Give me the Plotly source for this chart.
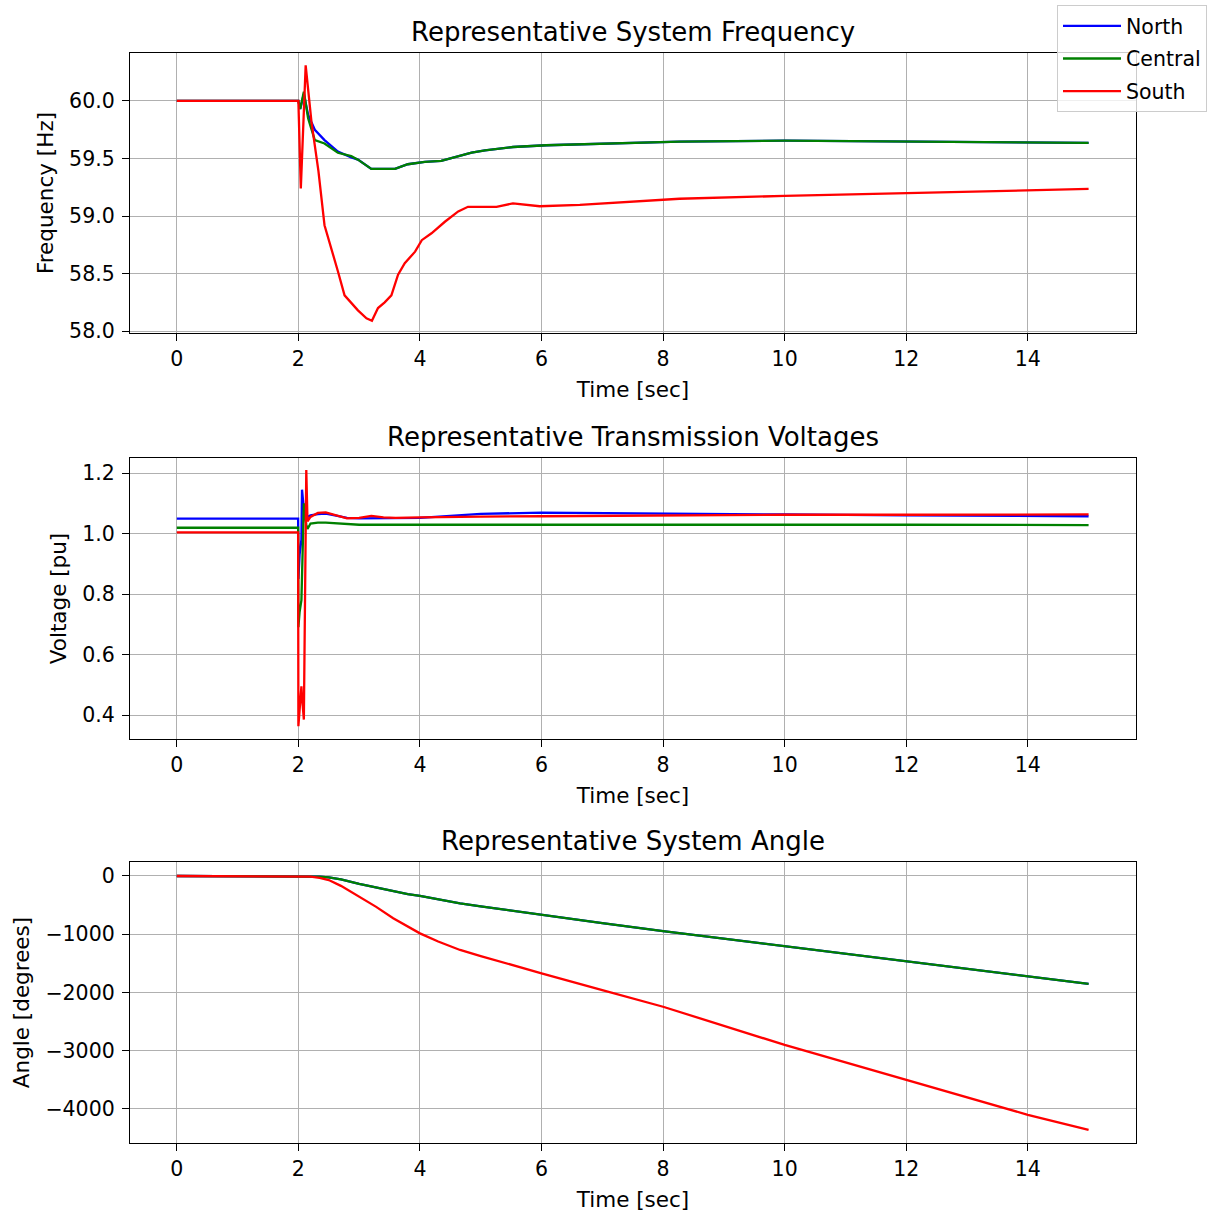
import plotly.graph_objects as go

# ---------------- data ----------------
series_names = ["North", "Central", "South"]
series_colors = ["#0000ff", "#008000", "#ff0000"]

# Frequency [Hz]
t_freq_nc = [0, 1.0, 2.0, 2.03, 2.09, 2.16, 2.27, 2.43, 2.65, 2.87, 2.98, 3.2, 3.42, 3.59,
             3.8, 4.08, 4.35, 4.63, 4.85, 5.07, 5.53, 6.08, 7.18, 8.27, 10.0, 12.0, 14.0,
             15.0]
freq_north = [60.0, 60.0, 60.0, 59.93, 60.06, 59.88, 59.75, 59.66, 59.56, 59.51, 59.49,
              59.41, 59.41, 59.41, 59.45, 59.47, 59.48, 59.52, 59.55, 59.57, 59.6, 59.615,
              59.63, 59.646, 59.655, 59.645, 59.64, 59.635]
freq_central = [60.0, 60.0, 60.0, 59.93, 60.08, 59.85, 59.66, 59.63, 59.55, 59.52, 59.49,
                59.41, 59.41, 59.41, 59.45, 59.47, 59.48, 59.52, 59.55, 59.57, 59.6, 59.615,
                59.63, 59.646, 59.655, 59.645, 59.64, 59.635]
t_freq_s = [0, 1.0, 2.0, 2.04, 2.12, 2.215, 2.33, 2.43, 2.545, 2.65, 2.76, 2.87, 2.98, 3.12,
            3.21, 3.31, 3.42, 3.53, 3.64, 3.75, 3.92, 4.03, 4.19, 4.41, 4.63, 4.79, 5.07,
            5.26, 5.53, 5.97, 6.63, 7.45, 8.27, 10.0, 12.0, 14.0, 15.0]
freq_south = [60.0, 60.0, 60.0, 59.24, 60.31, 59.82, 59.39, 58.92, 58.72, 58.52, 58.31,
              58.24, 58.18, 58.11, 58.09, 58.2, 58.25, 58.31, 58.49, 58.59, 58.69, 58.79,
              58.85, 58.95, 59.04, 59.08, 59.08, 59.08, 59.11, 59.085, 59.096, 59.12, 59.15,
              59.175, 59.2, 59.225, 59.235]

# Voltage [pu]
t_volt = [0, 1.996, 2.0, 2.02, 2.05, 2.06, 2.09, 2.13, 2.15, 2.2, 2.32, 2.45, 2.6, 2.8,
          3.0, 3.2, 3.4, 3.6, 4.0, 4.5, 5.0, 6.0, 8.0, 10.0, 12.0, 15.0]
volt_north = [1.049, 1.049, 0.85, 0.93, 0.98, 1.145, 1.08, 1.053, 1.055, 1.06, 1.064, 1.066,
              1.06, 1.052, 1.05, 1.05, 1.05, 1.05, 1.052, 1.058, 1.065, 1.069, 1.067, 1.063,
              1.06, 1.057]
volt_central = [1.019, 1.019, 0.69, 0.74, 0.78, 0.85, 1.1, 1.03, 1.015, 1.033, 1.036, 1.036,
                1.034, 1.03, 1.029, 1.029, 1.029, 1.029, 1.029, 1.03, 1.031, 1.031, 1.031,
                1.03, 1.029, 1.028]
volt_south = [1.004, 1.004, 0.363, 0.43, 0.495, 0.46, 0.385, 1.21, 1.04, 1.055, 1.068, 1.07,
              1.062, 1.05, 1.052, 1.058, 1.053, 1.052, 1.053, 1.055, 1.056, 1.057, 1.06,
              1.062, 1.062, 1.063]

# Angle [degrees]
t_angle = [0, 2.0, 2.2, 2.35, 2.5, 2.7, 3.0, 3.28, 3.56, 3.8, 4.0, 4.3, 4.66, 5.0, 5.5, 6.0,
           7.0, 8.0, 10.0, 12.0, 14.0, 15.0]
angle_north = [0, 0, -3, -10, -23, -60, -135, -200, -265, -310, -343, -400, -470, -520,
               -595, -670, -810, -945, -1202, -1459, -1717, -1854]
angle_central = [0, 0, -3, -10, -23, -60, -135, -200, -265, -310, -343, -400, -470, -520,
                 -595, -670, -810, -945, -1202, -1459, -1717, -1854]
angle_south = [0, 0, -12, -34, -70, -170, -355, -530, -725, -870, -985, -1125, -1270, -1375,
               -1525, -1671, -1960, -2245, -2900, -3500, -4100, -4360]

x_ticks = [0, 2, 4, 6, 8, 10, 12, 14]
freq_ticks = [58.0, 58.5, 59.0, 59.5, 60.0]
volt_ticks = [0.4, 0.6, 0.8, 1.0, 1.2]
angle_ticks = [-4000, -3000, -2000, -1000, 0]

titles = ["Representative System Frequency", "Representative Transmission Voltages",
          "Representative System Angle"]
y_titles = ["Frequency [Hz]", "Voltage [pu]", "Angle [degrees]"]
x_title = "Time [sec]"

# ---------------- figure ----------------
W, H = 1214, 1212
FONT = "DejaVu Sans"
TICK_SIZE = 20.5
LABEL_SIZE = 21.5
TITLE_SIZE = 26

fig = go.Figure()

panels = [
    ([t_freq_nc, t_freq_nc, t_freq_s], [freq_north, freq_central, freq_south], "x", "y"),
    ([t_volt] * 3, [volt_north, volt_central, volt_south], "x2", "y2"),
    ([t_angle] * 3, [angle_north, angle_central, angle_south], "x3", "y3"),
]
for p, (tts, vals, xa, ya) in enumerate(panels):
    for name, color, tt, v in zip(series_names, series_colors, tts, vals):
        fig.add_trace(go.Scatter(
            x=tt, y=v, mode="lines", name=name, legendgroup=name,
            line=dict(color=color, width=2.3),
            showlegend=(p == 0), xaxis=xa, yaxis=ya))

x_dom = [130 / W, 1136 / W]
y_doms = [[1 - 333 / H, 1 - 53 / H], [1 - 739 / H, 1 - 458 / H], [1 - 1143 / H, 1 - 862 / H]]
y_ranges = [[57.983, 60.417], [0.3207, 1.2496], [-4584, 240]]
y_tickvals = [freq_ticks, volt_ticks, angle_ticks]
y_fmts = [".1f", ".1f", "d"]

axis_common = dict(
    showline=True, linecolor="black", linewidth=1.3, mirror=True,
    ticks="outside", ticklen=7, tickwidth=1.3, tickcolor="black",
    showgrid=True, gridcolor="#b0b0b0", gridwidth=1.4, zeroline=False,
    automargin=False,
    tickfont=dict(family=FONT, size=TICK_SIZE, color="black"),
)

layout = dict(
    width=W, height=H, margin=dict(l=0, r=0, t=0, b=0, autoexpand=False),
    paper_bgcolor="white", plot_bgcolor="white",
    font=dict(family=FONT, size=TICK_SIZE, color="black"),
    legend=dict(x=1057 / W, y=1 - 5 / H, xanchor="left", yanchor="top",
                bgcolor="rgba(255,255,255,0.8)", bordercolor="#cccccc", borderwidth=1,
                font=dict(family=FONT, size=TICK_SIZE, color="black"),
                tracegroupgap=3, itemwidth=58),
    annotations=[],
)

for i in range(3):
    sx = "" if i == 0 else str(i + 1)
    layout["xaxis" + sx] = dict(
        axis_common, domain=x_dom, range=[-0.77, 15.78], tickvals=x_ticks,
        anchor="y" + sx,
        title=dict(text=x_title, font=dict(family=FONT, size=LABEL_SIZE), standoff=12))
    layout["yaxis" + sx] = dict(
        axis_common, domain=y_doms[i], range=y_ranges[i], tickvals=y_tickvals[i],
        tickformat=y_fmts[i], anchor="x" + sx, ticklabelstandoff=3,
        title=dict(text=y_titles[i], font=dict(family=FONT, size=LABEL_SIZE), standoff=9))
    layout["annotations"].append(dict(
        text=titles[i], xref="paper", yref="paper", x=(x_dom[0] + x_dom[1]) / 2,
        y=y_doms[i][1], xanchor="center", yanchor="bottom", yshift=4, showarrow=False,
        font=dict(family=FONT, size=TITLE_SIZE, color="black")))

fig.update_layout(**layout)
fig.write_html("out.html", config={"displayModeBar": False},
               post_script="document.body.style.margin='0px';")
